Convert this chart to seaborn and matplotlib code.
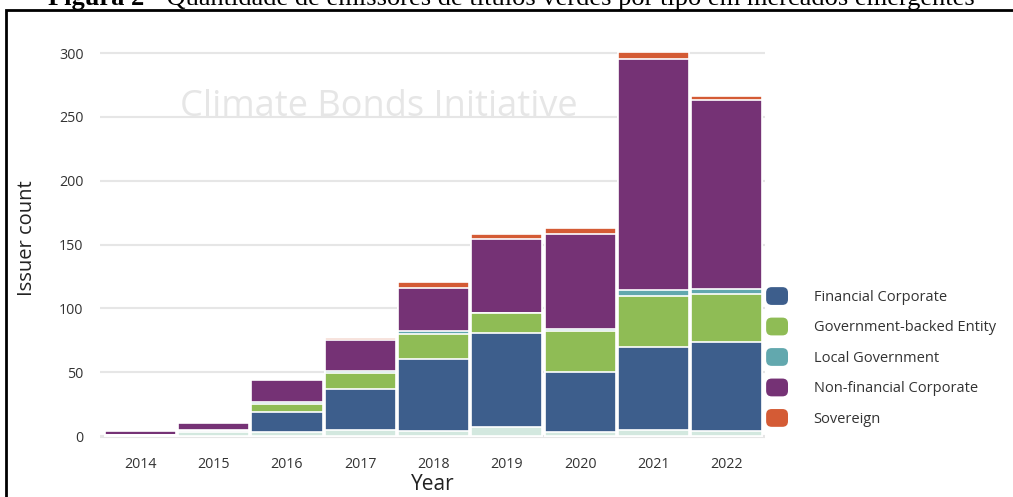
import numpy as np
import pandas as pd
import matplotlib
matplotlib.use("Agg")
import matplotlib.pyplot as plt
import seaborn as sns
from matplotlib.patches import FancyBboxPatch, Rectangle, Patch
from matplotlib.legend_handler import HandlerPatch

years = ["2014", "2015", "2016", "2017", "2018", "2019", "2020", "2021", "2022"]
other = [0, 3, 3, 5, 4, 7, 3, 5, 4]
financial_corporate = [1, 1, 16, 32, 56, 74, 47, 65, 70]
government_backed = [0, 0, 6, 12, 20, 15, 32, 40, 37]
local_government = [0, 1, 2, 2, 2, 0, 2, 4, 4]
non_financial_corporate = [3, 5, 17, 24, 34, 58, 74, 181, 148]
sovereign = [0, 0, 0, 2, 5, 4, 5, 6, 3]

series_names = ["Other", "Financial Corporate", "Government-backed Entity",
                "Local Government", "Non-financial Corporate", "Sovereign"]
series_vals = [other, financial_corporate, government_backed,
               local_government, non_financial_corporate, sovereign]
colors = ["#d3e8df", "#3d5e8c", "#8fbc55", "#62a8ae", "#753275", "#d45b35"]

sns.set_theme(style="white")
plt.rcParams["font.family"] = ["Open Sans", "DejaVu Sans"]

W, H = 1013, 497
fig = plt.figure(figsize=(W / 100, H / 100), dpi=100)
ax = fig.add_axes([100 / W, 0.1176, 665 / W, 0.8064])

cum = np.zeros(len(years))
cums = []
for v in series_vals:
    cum = cum + np.array(v, dtype=float)
    cums.append(cum.copy())

# draw cumulative from top layer down so lower layers cover upper ones
for name, c, col in reversed(list(zip(series_names, cums, colors))):
    d = pd.DataFrame({"Year": years, "val": c})
    sns.barplot(data=d, x="Year", y="val", color=col, saturation=1,
                width=0.97, edgecolor="white", linewidth=1.2, ax=ax, zorder=3)

ax.set_xlim(-0.55, 8.52)
ax.set_ylim(-2, 312)
ax.set_yticks([0, 50, 100, 150, 200, 250, 300])
ax.yaxis.grid(True, color="#e6e6e6", linewidth=1.5, zorder=0)
ax.xaxis.grid(False)
for s in ax.spines.values():
    s.set_visible(False)
ax.axhline(-1, color="#e6e6e6", lw=1.5, zorder=1)
ax.tick_params(axis="both", length=0, labelsize=10.3, labelcolor="#333333")
ax.tick_params(axis="x", pad=13)
ax.tick_params(axis="y", pad=12)
ax.set_xlabel("Year", fontsize=15, color="#222222", labelpad=2)
ax.set_ylabel("Issuer count", fontsize=14.5, color="#222222", labelpad=16)

ax.text(3.25, 258, "Climate Bonds Initiative", fontsize=26, color="#e6e6e6",
        ha="center", va="center", zorder=2)


class RoundHandler(HandlerPatch):
    def create_artists(self, legend, orig_handle, xdescent, ydescent,
                       width, height, fontsize, trans):
        p = FancyBboxPatch((-xdescent + 2, -ydescent + 2), width - 4, height - 4,
                           boxstyle="round,pad=2,rounding_size=4",
                           facecolor=orig_handle.get_facecolor(),
                           edgecolor="none", transform=trans)
        return [p]


handles = [Patch(facecolor=col) for col in colors[1:]]
leg = fig.legend(handles, series_names[1:], loc="upper left",
                 bbox_to_anchor=(753 / W, 1 - 274 / H), frameon=False,
                 fontsize=10.5, handlelength=1.5, handleheight=1.5,
                 labelspacing=0.87, handletextpad=1.75,
                 handler_map={Patch: RoundHandler()})
for t in leg.get_texts():
    t.set_color("#333333")

fig.text(48 / W, 1 - 5 / H, "Figura 2",
         ha="left", va="baseline", fontsize=19, fontweight="bold",
         family=["Liberation Serif", "DejaVu Serif"], color="black")
fig.text(140 / W, 1 - 5 / H, " – Quantidade de emissores de títulos verdes por tipo em mercados emergentes",
         ha="left", va="baseline", fontsize=19,
         family=["Liberation Serif", "DejaVu Serif"], color="black")
fig.patches.append(Rectangle((6 / W, -0.05), 1.1, 1 - 10 / H + 0.05,
                             transform=fig.transFigure, fill=False,
                             edgecolor="black", linewidth=2, zorder=10))

fig.savefig("out.png", dpi=100, facecolor="white")
